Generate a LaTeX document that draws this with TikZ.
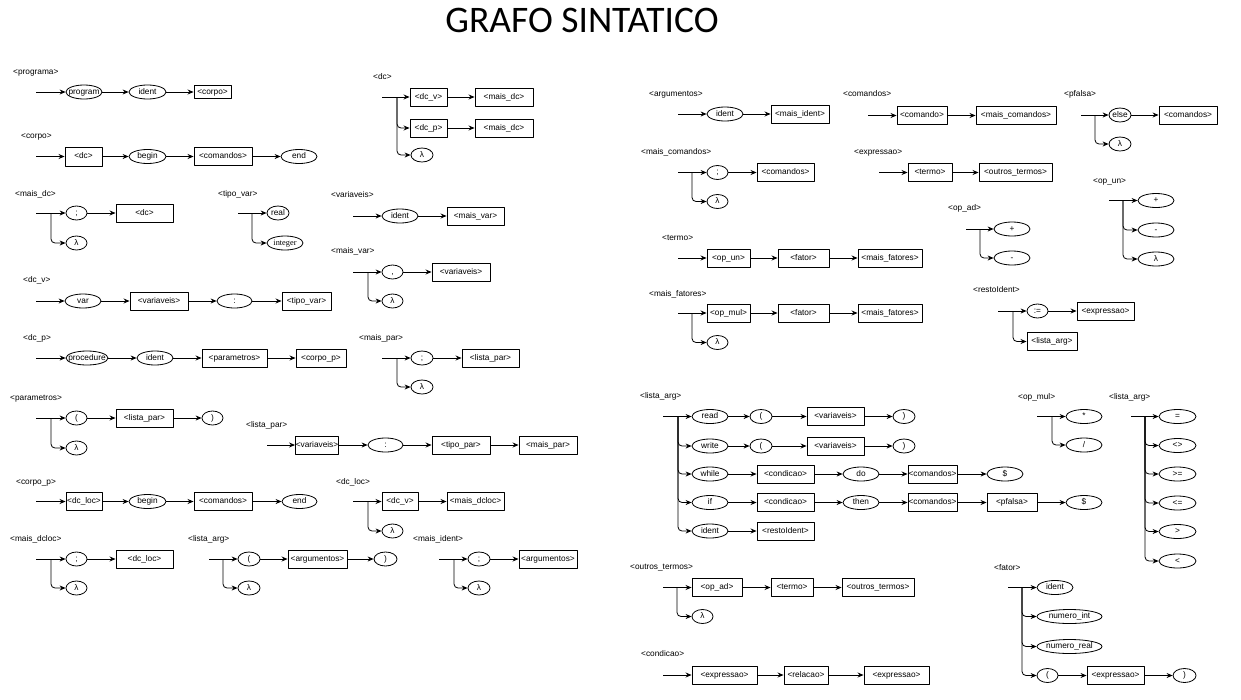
\documentclass[tikz,border=0pt]{standalone}
\usepackage{fontspec}
\setmainfont{Liberation Sans}
\newfontfamily\titlefont{Carlito}
\newfontfamily\seriffont{Liberation Serif}
\usetikzlibrary{arrows.meta,shapes.geometric}
\tikzset{
  seta/.style={-{Stealth[length=6pt,width=5pt]},line width=0.8pt},
  ramo/.style={seta,rounded corners=4pt},
  zw/.style={execute at begin node={\hbox to 0pt\bgroup\hss},execute at end node={\hss\egroup}},
  nt/.style={draw,line width=0.9pt,rectangle,inner sep=0pt,minimum width=#1,minimum height=18pt,text height=6pt,text depth=2pt,zw},
  tm/.style={draw,line width=0.8pt,ellipse,inner sep=0pt,minimum width=#1,minimum height=14pt,text height=6pt,text depth=2pt,zw},
  rot/.style={anchor=base west,inner sep=0pt},
}
\begin{document}
\begin{tikzpicture}[x=1pt,y=-1pt,font=\fontsize{8.3}{10}\selectfont,line join=round]
\useasboundingbox (0,0) rectangle (1241,699);
\node (titulo) at (582,20) {\titlefont\fontsize{37.5}{42}\selectfont GRAFO SINTATICO};

\node[rot] (lprograma) at (13,74) {<programa>};
\coordinate (pg0) at (36,92);
\node[tm=36] (pg1) at (84,92) {program};
\node[tm=37] (pg2) at (147.5,92) {ident};
\node[nt=37,minimum height=13pt] (pg3) at (212.5,92) {<corpo>};
\path[seta] (pg0) edge (pg1) (pg1) edge (pg2) (pg2) edge (pg3);

\node[rot] (lcorpo) at (21,138) {<corpo>};
\coordinate (cp0) at (36,156.5);
\node[nt=37,minimum height=19pt] (cp1) at (83.5,156.5) {<dc>};
\node[tm=37] (cp2) at (147.5,156.5) {begin};
\node[nt=58] (cp3) at (223,156.5) {<comandos>};
\node[tm=36] (cp4) at (299,156.5) {end};
\path[seta] (cp0) edge (cp1) (cp1) edge (cp2) (cp2) edge (cp3) (cp3) edge (cp4);

\node[rot] (lmaisdc) at (15,196) {<mais\_dc>};
\coordinate (md0) at (36,213);
\coordinate (md1) at (51,213);
\node[tm=21] (md2) at (76.5,213) {;};
\node[nt=57] (md3) at (144.5,213) {<dc>};
\node[tm=21] (md4) at (76.5,243) {λ};
\path[seta] (md0) edge (md2) (md2) edge (md3);
\draw[ramo] (md1) |- (md4);

\node[rot] (ltipovar) at (218,196) {<tipo\_var>};
\coordinate (tv0) at (238,213);
\coordinate (tv1) at (252,213);
\node[tm=22] (tv2) at (278,213) {real};
\node[tm=36] (tv3) at (285,243) {\seriffont integer};
\draw[seta] (tv0) -- (tv2);
\draw[ramo] (tv1) |- (tv3);

\node[rot] (ldc) at (373,79) {<dc>};
\coordinate (dc0) at (382,97);
\coordinate (dc1) at (397,97);
\node[nt=37] (dc2) at (428.5,97) {<dc\_v>};
\node[nt=58] (dc3) at (504,97) {<mais\_dc>};
\node[nt=37] (dc4) at (428.5,128) {<dc\_p>};
\node[nt=58] (dc5) at (504,128) {<mais\_dc>};
\node[tm=22] (dc6) at (422,155) {λ};
\path[seta] (dc0) edge (dc2) (dc2) edge (dc3) (dc4) edge (dc5);
\draw[ramo] (dc1) |- (dc4);
\draw[ramo] (dc1) |- (dc6);

\node[rot] (lvariaveis) at (331,197) {<variaveis>};
\coordinate (va0) at (353,216);
\node[tm=36] (va1) at (400,216) {ident};
\node[nt=57] (va2) at (475.5,216) {<mais\_var>};
\path[seta] (va0) edge (va1) (va1) edge (va2);

\node[rot] (lmaisvar) at (331,253) {<mais\_var>};
\coordinate (mv0) at (353,272);
\coordinate (mv1) at (368,272);
\node[tm=21] (mv2) at (392.5,272) {,};
\node[nt=58] (mv3) at (461,272) {<variaveis>};
\node[tm=21] (mv4) at (392.5,301) {λ};
\path[seta] (mv0) edge (mv2) (mv2) edge (mv3);
\draw[ramo] (mv1) |- (mv4);

\node[rot] (ldcv) at (23,282) {<dc\_v>};
\coordinate (dv0) at (36,301);
\node[tm=36] (dv1) at (83,301) {var};
\node[nt=58] (dv2) at (159,301) {<variaveis>};
\node[tm=35] (dv3) at (234.5,301) {:};
\node[nt=49] (dv4) at (306.5,301) {<tipo\_var>};
\path[seta] (dv0) edge (dv1) (dv1) edge (dv2) (dv2) edge (dv3) (dv3) edge (dv4);

\node[rot] (ldcp) at (23,340) {<dc\_p>};
\coordinate (dp0) at (36,358);
\node[tm=42] (dp1) at (87,358) {procedure};
\node[tm=36] (dp2) at (155,358) {ident};
\node[nt=65] (dp3) at (234.5,358) {<parametros>};
\node[nt=50] (dp4) at (321,358) {<corpo\_p>};
\path[seta] (dp0) edge (dp1) (dp1) edge (dp2) (dp2) edge (dp3) (dp3) edge (dp4);

\node[rot] (lmaispar) at (359,340) {<mais\_par>};
\coordinate (mp0) at (382,358);
\coordinate (mp1) at (397,358);
\node[tm=22] (mp2) at (422,358) {;};
\node[nt=57] (mp3) at (490.5,358) {<lista\_par>};
\node[tm=22] (mp4) at (422,387) {λ};
\path[seta] (mp0) edge (mp2) (mp2) edge (mp3);
\draw[ramo] (mp1) |- (mp4);

\node[rot] (lparametros) at (10,400) {<parametros>};
\coordinate (pa0) at (36,418);
\coordinate (pa1) at (51,418);
\node[tm=21] (pa2) at (76.5,418) {(};
\node[nt=57] (pa3) at (144.5,418) {<lista\_par>};
\node[tm=21] (pa4) at (212.5,418) {)};
\node[tm=21] (pa5) at (76.5,448) {λ};
\path[seta] (pa0) edge (pa2) (pa2) edge (pa3) (pa3) edge (pa4);
\draw[ramo] (pa1) |- (pa5);

\node[rot] (llistapar) at (246,427) {<lista\_par>};
\coordinate (lp0) at (267,445);
\node[nt=43] (lp1) at (317,445) {<variaveis>};
\node[tm=35] (lp2) at (385.5,445) {:};
\node[nt=58] (lp3) at (461,445) {<tipo\_par>};
\node[nt=58] (lp4) at (548,445) {<mais\_par>};
\path[seta] (lp0) edge (lp1) (lp1) edge (lp2) (lp2) edge (lp3) (lp3) edge (lp4);

\node[rot] (lcorpop) at (16,484) {<corpo\_p>};
\coordinate (cq0) at (36,501.5);
\node[nt=36] (cq1) at (84,501.5) {<dc\_loc>};
\node[tm=37] (cq2) at (147.5,501.5) {begin};
\node[nt=58] (cq3) at (223,501.5) {<comandos>};
\node[tm=35] (cq4) at (299.5,501.5) {end};
\path[seta] (cq0) edge (cq1) (cq1) edge (cq2) (cq2) edge (cq3) (cq3) edge (cq4);

\node[rot] (ldcloc) at (336,484) {<dc\_loc>};
\coordinate (dl0) at (353,501.5);
\coordinate (dl1) at (368,501.5);
\node[nt=36] (dl2) at (400,501.5) {<dc\_v>};
\node[nt=57] (dl3) at (475.5,501.5) {<mais\_dcloc>};
\node[tm=21] (dl4) at (392.5,531) {λ};
\path[seta] (dl0) edge (dl2) (dl2) edge (dl3);
\draw[ramo] (dl1) |- (dl4);

\node[rot] (lmaisdcloc) at (10,541) {<mais\_dcloc>};
\coordinate (ml0) at (36,559);
\coordinate (ml1) at (51,559);
\node[tm=21] (ml2) at (76.5,559) {;};
\node[nt=57] (ml3) at (144.5,559) {<dc\_loc>};
\node[tm=21] (ml4) at (76.5,588) {λ};
\path[seta] (ml0) edge (ml2) (ml2) edge (ml3);
\draw[ramo] (ml1) |- (ml4);

\node[rot] (llistaarg) at (188,541) {<lista\_arg>};
\coordinate (la0) at (209,559);
\coordinate (la1) at (223,559);
\node[tm=22] (la2) at (249,559) {(};
\node[nt=59] (la3) at (317.5,559) {<argumentos>};
\node[tm=23] (la4) at (385.5,559) {)};
\node[tm=22] (la5) at (249,588) {λ};
\path[seta] (la0) edge (la2) (la2) edge (la3) (la3) edge (la4);
\draw[ramo] (la1) |- (la5);

\node[rot] (lmaisident) at (413,541) {<mais\_ident>};
\coordinate (mi0) at (439,559);
\coordinate (mi1) at (454,559);
\node[tm=22] (mi2) at (479,559) {;};
\node[nt=58] (mi3) at (548,559) {<argumentos>};
\node[tm=22] (mi4) at (479,588) {λ};
\path[seta] (mi0) edge (mi2) (mi2) edge (mi3);
\draw[ramo] (mi1) |- (mi4);

\node[rot] (largumentos) at (649,96) {<argumentos>};
\coordinate (ar0) at (678,114);
\node[tm=36] (ar1) at (725,114) {ident};
\node[nt=58] (ar2) at (800,114) {<mais\_ident>};
\path[seta] (ar0) edge (ar1) (ar1) edge (ar2);

\node[rot] (lcomandos) at (843,96) {<comandos>};
\coordinate (co0) at (868,115.5);
\node[nt=50] (co1) at (922,115.5) {<comando>};
\node[nt=80] (co2) at (1016,115.5) {<mais\_comandos>};
\path[seta] (co0) edge (co1) (co1) edge (co2);

\node[rot] (lpfalsa) at (1064,96) {<pfalsa>};
\coordinate (pf0) at (1081,115);
\coordinate (pf1) at (1095,115);
\node[tm=22] (pf2) at (1120,115) {else};
\node[nt=58] (pf3) at (1188,115) {<comandos>};
\node[tm=22] (pf4) at (1120,144) {λ};
\path[seta] (pf0) edge (pf2) (pf2) edge (pf3);
\draw[ramo] (pf1) |- (pf4);

\node[rot] (lmaiscomandos) at (641,154) {<mais\_comandos>};
\coordinate (mc0) at (678,172.5);
\coordinate (mc1) at (692,172.5);
\node[tm=21] (mc2) at (717.5,172.5) {;};
\node[nt=57] (mc3) at (785.5,172.5) {<comandos>};
\node[tm=21] (mc4) at (717.5,201.5) {λ};
\path[seta] (mc0) edge (mc2) (mc2) edge (mc3);
\draw[ramo] (mc1) |- (mc4);

\node[rot] (lexpressao) at (854,154) {<expressao>};
\coordinate (ex0) at (879,172.5);
\node[nt=44] (ex1) at (930,172.5) {<termo>};
\node[nt=73] (ex2) at (1015.5,172.5) {<outros\_termos>};
\path[seta] (ex0) edge (ex1) (ex1) edge (ex2);

\node[rot] (lopun) at (1093,183) {<op\_un>};
\coordinate (ou0) at (1109,200.5);
\coordinate (ou1) at (1123,200.5);
\node[tm=36] (ou2) at (1156,200.5) {+};
\node[tm=36] (ou3) at (1156,230) {-};
\node[tm=36] (ou4) at (1156,259) {λ};
\draw[seta] (ou0) -- (ou2);
\draw[ramo] (ou1) |- (ou3);
\draw[ramo] (ou1) |- (ou4);

\node[rot] (lopad) at (948,210) {<op\_ad>};
\coordinate (oa0) at (966,229);
\coordinate (oa1) at (980,229);
\node[tm=36] (oa2) at (1012,229) {+};
\node[tm=36] (oa3) at (1012,258) {-};
\draw[seta] (oa0) -- (oa2);
\draw[ramo] (oa1) |- (oa3);

\node[rot] (ltermo) at (662,240) {<termo>};
\coordinate (te0) at (678,258);
\node[nt=43] (te1) at (728.5,258) {<op\_un>};
\node[nt=51] (te2) at (803.5,258) {<fator>};
\node[nt=64] (te3) at (890,258) {<mais\_fatores>};
\path[seta] (te0) edge (te1) (te1) edge (te2) (te2) edge (te3);

\node[rot] (lmaisfatores) at (649,296) {<mais\_fatores>};
\coordinate (mf0) at (678,313);
\coordinate (mf1) at (692,313);
\node[nt=43] (mf2) at (728.5,313) {<op\_mul>};
\node[nt=51] (mf3) at (803.5,313) {<fator>};
\node[nt=64] (mf4) at (890,313) {<mais\_fatores>};
\node[tm=21] (mf5) at (717.5,342.5) {λ};
\path[seta] (mf0) edge (mf2) (mf2) edge (mf3) (mf3) edge (mf4);
\draw[ramo] (mf1) |- (mf5);

\node[rot] (lrestoident) at (973,292) {<restoIdent>};
\coordinate (ri0) at (998,311);
\coordinate (ri1) at (1013,311);
\node[tm=21] (ri2) at (1037.5,311) {:=};
\node[nt=57] (ri3) at (1105.5,311) {<expressao>};
\node[nt=50] (ri4) at (1052,341.5) {<lista\_arg>};
\path[seta] (ri0) edge (ri2) (ri2) edge (ri3);
\draw[ramo] (ri1) |- (ri4);

\node[rot] (lcomando) at (640,398) {<lista\_arg>};
\coordinate (cm0) at (663,416.5);
\coordinate (cm1) at (678,416.5);
\node[tm=36] (cm1a) at (710,416.5) {read};
\node[tm=22] (cm1b) at (761,416.5) {(};
\node[nt=57] (cm1c) at (835.5,416.5) {<variaveis>};
\node[tm=22] (cm1d) at (904,416.5) {)};
\node[tm=36] (cm2a) at (710,446) {write};
\node[tm=22] (cm2b) at (761,446) {(};
\node[nt=57] (cm2c) at (835.5,446) {<variaveis>};
\node[tm=22] (cm2d) at (904,446) {)};
\node[tm=36] (cm3a) at (710,474) {while};
\node[nt=57] (cm3b) at (785.5,474) {<condicao>};
\node[tm=36] (cm3c) at (861,474) {do};
\node[nt=49] (cm3d) at (932.5,474) {<comandos>};
\node[tm=36] (cm3e) at (1005,474) {\$};
\node[tm=36] (cm4a) at (710,502.5) {if};
\node[nt=57] (cm4b) at (785.5,502.5) {<condicao>};
\node[tm=36] (cm4c) at (861,502.5) {then};
\node[nt=49] (cm4d) at (932.5,502.5) {<comandos>};
\node[nt=50] (cm4e) at (1012,502.5) {<pfalsa>};
\node[tm=36] (cm4f) at (1084,502.5) {\$};
\node[tm=36] (cm5a) at (710,531) {ident};
\node[nt=57] (cm5b) at (785.5,531) {<restoIdent>};
\path[seta] (cm0) edge (cm1a) (cm1a) edge (cm1b) (cm1b) edge (cm1c) (cm1c) edge (cm1d);
\path[seta] (cm2a) edge (cm2b) (cm2b) edge (cm2c) (cm2c) edge (cm2d);
\path[seta] (cm3a) edge (cm3b) (cm3b) edge (cm3c) (cm3c) edge (cm3d) (cm3d) edge (cm3e);
\path[seta] (cm4a) edge (cm4b) (cm4b) edge (cm4c) (cm4c) edge (cm4d) (cm4d) edge (cm4e) (cm4e) edge (cm4f);
\path[seta] (cm5a) edge (cm5b);
\draw[ramo] (cm1) |- (cm2a);
\draw[ramo] (cm1) |- (cm3a);
\draw[ramo] (cm1) |- (cm4a);
\draw[ramo] (cm1) |- (cm5a);

\node[rot] (lopmul) at (1018,399) {<op\_mul>};
\coordinate (om0) at (1037,416.5);
\coordinate (om1) at (1052,416.5);
\node[tm=36] (om2) at (1084,416.5) {*};
\node[tm=36] (om3) at (1084,445) {/};
\draw[seta] (om0) -- (om2);
\draw[ramo] (om1) |- (om3);

\node[rot] (lrelacao) at (1109,399) {<lista\_arg>};
\coordinate (rl0) at (1131,416.5);
\coordinate (rl1) at (1145,416.5);
\node[tm=37] (rl2) at (1177.5,416.5) {=};
\node[tm=37] (rl3) at (1177.5,445.5) {<>};
\node[tm=37] (rl4) at (1177.5,474) {>=};
\node[tm=37] (rl5) at (1177.5,503) {<=};
\node[tm=37] (rl6) at (1177.5,531.5) {>};
\node[tm=37] (rl7) at (1177.5,561) {<};
\draw[seta] (rl0) -- (rl2);
\draw[ramo] (rl1) |- (rl3);
\draw[ramo] (rl1) |- (rl4);
\draw[ramo] (rl1) |- (rl5);
\draw[ramo] (rl1) |- (rl6);
\draw[ramo] (rl1) |- (rl7);

\node[rot] (loutrostermos) at (630,569) {<outros\_termos>};
\coordinate (ot0) at (663,587.5);
\coordinate (ot1) at (677,587.5);
\node[nt=50] (ot2) at (717,587.5) {<op\_ad>};
\node[nt=42] (ot3) at (792,587.5) {<termo>};
\node[nt=72] (ot4) at (878,587.5) {<outros\_termos>};
\node[tm=21] (ot5) at (702.5,616.5) {λ};
\path[seta] (ot0) edge (ot2) (ot2) edge (ot3) (ot3) edge (ot4);
\draw[ramo] (ot1) |- (ot5);

\node[rot] (lcondicao) at (641,656) {<condicao>};
\coordinate (cd0) at (663,675);
\node[nt=65] (cd1) at (724.5,675) {<expressao>};
\node[nt=44] (cd2) at (806,675) {<relacao>};
\node[nt=65] (cd3) at (896.5,675) {<expressao>};
\path[seta] (cd0) edge (cd1) (cd1) edge (cd2) (cd2) edge (cd3);

\node[rot] (lfator) at (994,570) {<fator>};
\coordinate (fa0) at (1008,587.5);
\coordinate (fa1) at (1022,587.5);
\node[tm=36] (fa2) at (1055,587.5) {ident};
\node[tm=65] (fa3) at (1069.5,616.5) {numero\_int};
\node[tm=65] (fa4) at (1069.5,646.5) {numero\_real};
\node[tm=21] (fa5) at (1047.5,675.5) {(};
\node[nt=57] (fa6) at (1115.5,675.5) {<expressao>};
\node[tm=23] (fa7) at (1184.5,675.5) {)};
\path[seta] (fa0) edge (fa2) (fa5) edge (fa6) (fa6) edge (fa7);
\draw[ramo] (fa1) |- (fa3);
\draw[ramo] (fa1) |- (fa4);
\draw[ramo] (fa1) |- (fa5);
\end{tikzpicture}
\end{document}
